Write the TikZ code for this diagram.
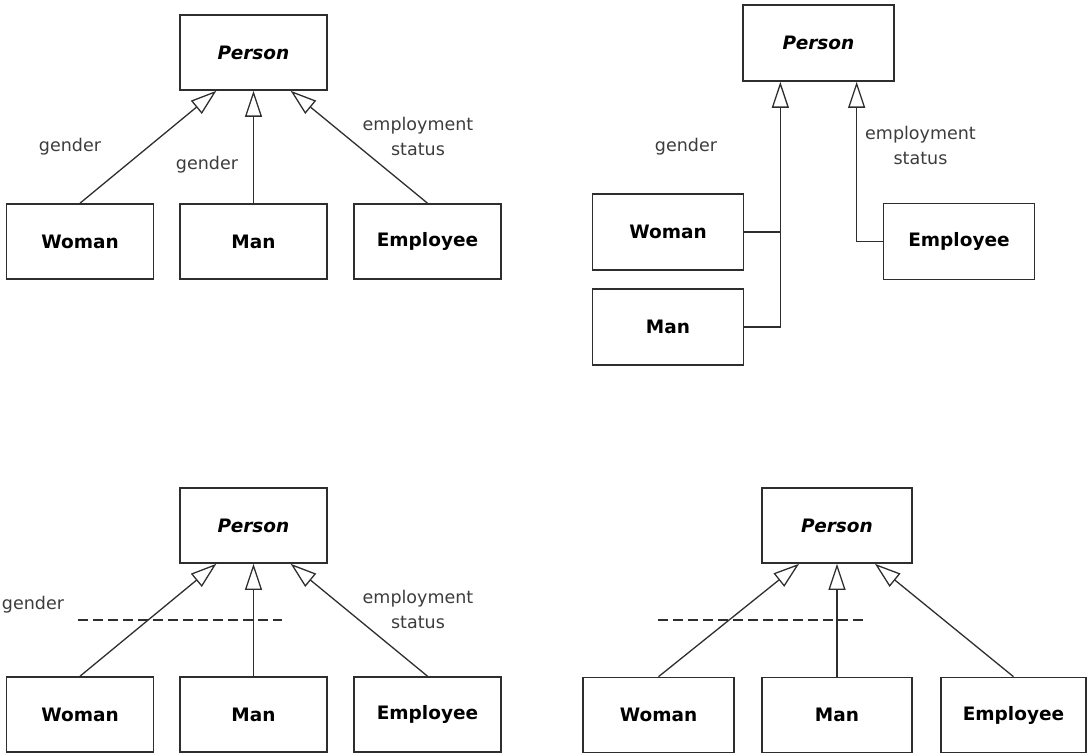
\documentclass[tikz,border=0pt]{standalone}
\usepackage{fontspec}
\setmainfont{DejaVu Sans}
\usetikzlibrary{arrows.meta, positioning, calc}
\definecolor{umlLine}{HTML}{2E2E2E}
\definecolor{umlText}{HTML}{3C3C3C}

\begin{document}
\begin{tikzpicture}[x=1pt, y=-1pt,
    classbox/.style={draw=umlLine, line width=1.6pt, minimum width=147pt, minimum height=75pt,
      inner sep=0pt, font=\fontsize{18.5}{22}\selectfont\bfseries},
    abstract/.style={classbox, font=\fontsize{18.5}{22}\selectfont\bfseries\itshape},
    genarrow/.style={-{Triangle[open, length=26pt, width=17pt]}, draw=umlLine, line width=1.3pt},
    sublabel/.style={text=umlText, font=\fontsize{17.5}{25}\selectfont, align=center, inner sep=0pt},
    partition/.style={umlLine, line width=1.4pt, dash pattern=on 10pt off 5pt}]
  \useasboundingbox (0,0) rectangle (1087,754);

  % left column: separate arrows (top), with a partition line (bottom)
  \foreach \p/\dy in {a/0, c/473} {
    \node[abstract] (person\p) at (253.5, 52.5+\dy) {Person};
    \node[classbox] (woman\p) at (80, 241.5+\dy) {Woman};
    \node[classbox] (man\p) at (253.5, 241.5+\dy) {Man};
    \node[classbox] (employee\p) at (427.5, 241.5+\dy) {Employee};
    \draw[genarrow] (woman\p.north) -- ($(person\p.south west)!0.25!(person\p.south east)$);
    \draw[genarrow] (man\p.north) -- (person\p.south);
    \draw[genarrow] (employee\p.north) -- ($(person\p.south west)!0.75!(person\p.south east)$);
  }
  \node[sublabel] (gendera) at (70, 147) {gender};
  \node[sublabel] (genderm) at (207, 165) {gender};
  \node[sublabel] (statusa) at (418, 136.5) {employment\\status};
  \node[sublabel] (genderc) at (33, 605) {gender};
  \node[sublabel] (statusc) at (418, 609.5) {employment\\status};
  \draw[partition] (78, 620) -- (282, 620);

  % top right: shared target style
  \node[abstract, minimum width=151pt, minimum height=76pt] (personb) at (818.5, 43) {Person};
  \node[classbox, minimum width=151pt, minimum height=76pt] (womanb) at (668, 232) {Woman};
  \node[classbox, minimum width=151pt, minimum height=76pt] (manb) at (668, 327) {Man};
  \node[classbox, minimum width=151pt, minimum height=76pt] (employeeb) at (959, 241.5) {Employee};
  \coordinate (joinb) at ($(personb.south west)!0.25!(personb.south east)$);
  \draw[genarrow] (manb.east) -| (joinb);
  \draw[umlLine, line width=1.3pt] (womanb.east) -- (womanb.east -| joinb);
  \draw[genarrow] (employeeb.west) -| ($(personb.south west)!0.75!(personb.south east)$);
  \node[sublabel] (genderb) at (686, 147) {gender};
  \node[sublabel] (statusb) at (920.5, 145.5) {employment\\status};

  % bottom right: partition line, no labels
  \node[abstract, minimum width=150pt] (persond) at (837, 525.5) {Person};
  \node[classbox, minimum width=151pt] (womand) at (658.5, 715) {Woman};
  \node[classbox, minimum width=150pt] (mand) at (837, 715) {Man};
  \node[classbox, minimum width=145pt] (employeed) at (1013.5, 715) {Employee};
  \draw[genarrow] (womand.north) -- ($(persond.south west)!0.25!(persond.south east)$);
  \draw[genarrow] (mand.north) -- (persond.south);
  \draw[genarrow] (employeed.north) -- ($(persond.south west)!0.75!(persond.south east)$);
  \draw[partition] (658, 620) -- (866, 620);
\end{tikzpicture}
\end{document}
